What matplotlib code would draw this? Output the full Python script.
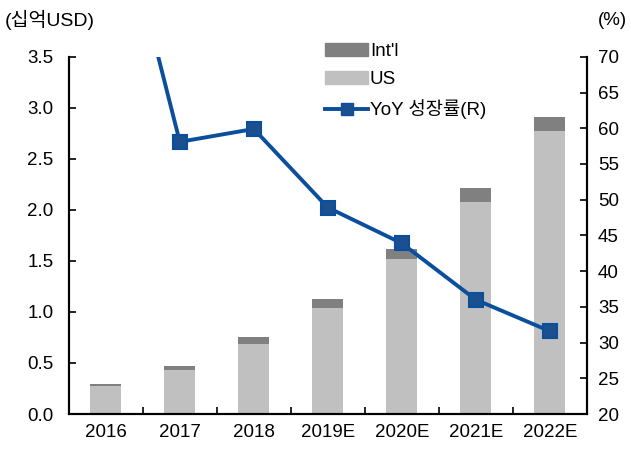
import numpy as np
import matplotlib.pyplot as plt
from matplotlib.patches import Patch
from matplotlib.lines import Line2D

plt.rcParams["font.family"] = ["Liberation Sans", "Noto Sans CJK KR", "DejaVu Sans"]

# data
years = ["2016", "2017", "2018", "2019E", "2020E", "2021E", "2022E"]
us = [0.27, 0.43, 0.69, 1.04, 1.52, 2.08, 2.77]
intl = [0.02, 0.04, 0.06, 0.09, 0.10, 0.13, 0.14]
yoy = [99.0, 58.1, 59.9, 48.9, 43.9, 36.0, 31.6]

gray_dark = "#808080"
gray_light = "#C0C0C0"
blue = "#0B4F9C"
fs = 13.5

fig = plt.figure(figsize=(6.31, 4.51), dpi=100)
ax = fig.add_axes([0.109, 0.082, 0.821, 0.792])
ax2 = ax.twinx()

x = np.arange(len(years))
ax.bar(x, us, width=0.42, color=gray_light, zorder=2)
ax.bar(x, intl, width=0.42, bottom=us, color=gray_dark, zorder=2)

ax2.plot(x, yoy, color=blue, lw=2.8, marker="s", markersize=10.5,
         markerfacecolor="#1A4F90", markeredgecolor=blue, markeredgewidth=1.5)

ax.set_xlim(-0.5, len(years) - 0.5)
ax.set_ylim(0, 3.5)
ax.set_yticks(np.arange(0, 3.51, 0.5))
ax.set_yticklabels([f"{v:.1f}" for v in np.arange(0, 3.51, 0.5)])
ax2.set_ylim(20, 70)
ax2.set_yticks(range(20, 71, 5))

ax.set_xticks(x)
ax.set_xticklabels(years)
ax.set_xticks(np.arange(0.5, len(years) - 1, 1), minor=True)
ax.tick_params(axis="x", which="major", length=0, labelsize=fs, pad=7)
ax.tick_params(axis="x", which="minor", direction="in", length=5, width=1.2)
ax.tick_params(axis="y", direction="in", length=5, width=1.2, labelsize=fs, pad=11)
ax2.tick_params(axis="y", direction="in", length=5, width=1.2, labelsize=fs, pad=8)

for a in (ax, ax2):
    a.spines["top"].set_visible(False)
    for s in ("left", "right", "bottom"):
        a.spines[s].set_linewidth(1.5)

ax.set_zorder(ax2.get_zorder() - 1)
ax.patch.set_visible(False)

handles = [
    Patch(color=gray_dark, label="Int'l"),
    Patch(color=gray_light, label="US"),
    Line2D([], [], color=blue, lw=2.8, marker="s", markersize=9,
           markerfacecolor="#1A4F90", label="YoY 성장률(R)"),
]
ax2.legend(handles=handles, loc="upper left", bbox_to_anchor=(0.48, 1.06),
           frameon=False, fontsize=fs, handlelength=2.3, handletextpad=0.1,
           labelspacing=0.6, borderaxespad=0)

fig.text(0.008, 0.955, "(십억USD)", fontsize=fs + 0.5, va="center", ha="left")
fig.text(0.993, 0.955, "(%)", fontsize=fs, va="center", ha="right")

fig.savefig("out.png", dpi=100)
